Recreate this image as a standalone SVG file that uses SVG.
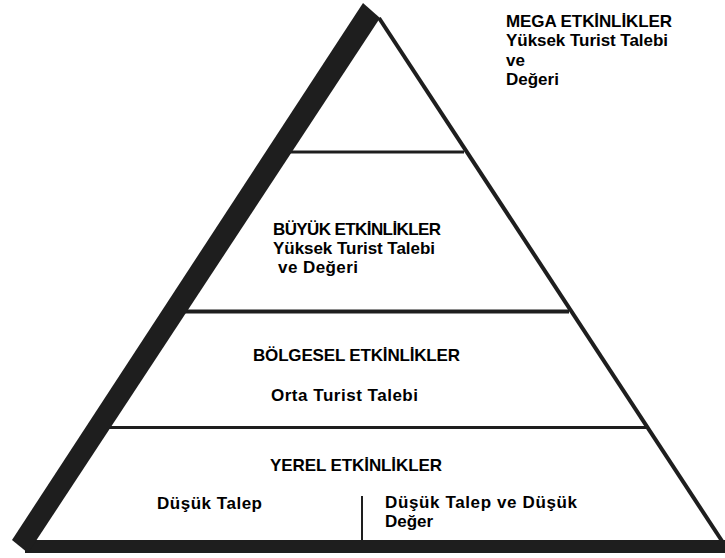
<svg xmlns="http://www.w3.org/2000/svg" width="725" height="558" viewBox="0 0 725 558">
<style>
.t{font-family:"Liberation Sans",Arial,sans-serif;font-weight:bold;font-size:17px;fill:#000}
.ln{stroke:#1e1e1e;fill:none}
</style>
<rect width="725" height="558" fill="#fff"/>
<g id="connectors">
<line class="ln" x1="285" y1="152" x2="464" y2="152" stroke-width="3"/>
<line class="ln" x1="180" y1="311.5" x2="569" y2="311.5" stroke-width="4"/>
<line class="ln" x1="100" y1="427.5" x2="646" y2="427.5" stroke-width="3"/>
<line class="ln" x1="362" y1="496" x2="362" y2="541" stroke-width="2"/>
</g>
<g id="pyramid">
<line class="ln" x1="379" y1="18" x2="722" y2="541" stroke-width="4"/>
<rect x="25" y="540" width="700" height="13" fill="#1e1e1e"/>
<polygon points="363,3 380,18 28,553 12,540" fill="#1e1e1e"/>
</g>
<g id="mega">
<text class="t" x="506" y="26.5" textLength="166">MEGA ETKİNLİKLER</text>
<text class="t" x="506" y="46" textLength="162">Yüksek Turist Talebi</text>
<text class="t" x="506" y="65.5">ve</text>
<text class="t" x="506" y="85">Değeri</text>
</g>
<g id="buyuk">
<text class="t" x="273" y="235" textLength="168">BÜYÜK ETKİNLİKLER</text>
<text class="t" x="273" y="254" textLength="162">Yüksek Turist Talebi</text>
<text class="t" x="278" y="273" textLength="80">ve Değeri</text>
</g>
<g id="bolgesel">
<text class="t" x="253" y="361" textLength="207">BÖLGESEL ETKİNLİKLER</text>
<text class="t" x="271" y="400.5" textLength="147">Orta Turist Talebi</text>
</g>
<g id="yerel">
<text class="t" x="270" y="471" textLength="172">YEREL ETKİNLİKLER</text>
<text class="t" x="157" y="509" textLength="105">Düşük Talep</text>
<text class="t" x="385" y="508" textLength="192">Düşük Talep ve Düşük</text>
<text class="t" x="385" y="527">Değer</text>
</g>
</svg>
